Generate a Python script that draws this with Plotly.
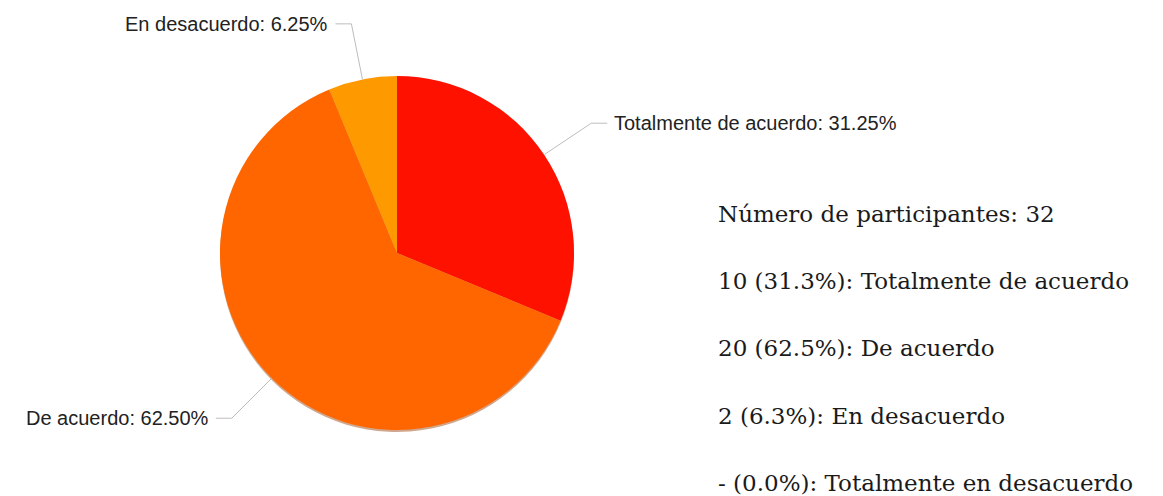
import math
from decimal import Decimal, ROUND_HALF_UP
import plotly.graph_objects as go

categories = ["Totalmente de acuerdo", "De acuerdo", "En desacuerdo", "Totalmente en desacuerdo"]
counts = [10, 20, 2, 0]
colors = ["#ff1100", "#ff6600", "#ff9900", "#ffcc00"]

W, H = 1163, 496
OFF = 8  # page body margin
cx, cy, R = 397, 253, 177
total = sum(counts)

def px2paper(x, y):
    return (x - OFF) / W, 1 - (y - OFF) / H

def r1(v):
    return str(Decimal(str(v)).quantize(Decimal("0.1"), rounding=ROUND_HALF_UP))

fig = go.Figure()

x0p, _ = px2paper(cx - R, 0)
x1p, _ = px2paper(cx + R, 0)
# subtle shadow
_, ys0 = px2paper(0, cy + R + 2)
_, ys1 = px2paper(0, cy - R + 2)
fig.add_trace(go.Pie(
    labels=categories, values=counts, sort=False, direction="clockwise",
    marker=dict(colors=["rgba(150,60,0,0.45)"] * 4),
    textinfo="none", hoverinfo="skip",
    domain=dict(x=[x0p, x1p], y=[ys0, ys1]),
))
_, yp0 = px2paper(0, cy + R)
_, yp1 = px2paper(0, cy - R)
fig.add_trace(go.Pie(
    labels=categories, values=counts, sort=False, direction="clockwise",
    marker=dict(colors=colors), textinfo="none",
    domain=dict(x=[x0p, x1p], y=[yp0, yp1]),
))

shapes = []
annotations = []
cum = 0
for cat, v in zip(categories, counts):
    if v <= 0:
        cum += v
        continue
    f = (cum + v / 2) / total
    cum += v
    th = 2 * math.pi * f
    s, c = math.sin(th), math.cos(th)
    x0, y0 = cx + R * s, cy - R * c
    re = 1.32 * R
    x1, y1 = cx + re * s, cy - re * c
    side = 1 if s >= 0 else -1
    x2 = x1 + side * 16
    pts = [px2paper(x0, y0), px2paper(x1, y1), px2paper(x2, y1)]
    path = "M {} {} L {} {} L {} {}".format(pts[0][0], pts[0][1], pts[1][0], pts[1][1], pts[2][0], pts[2][1])
    shapes.append(dict(type="path", xref="paper", yref="paper", path=path,
                       line=dict(color="#bdbdbd", width=1)))
    tx, ty = px2paper(x2 + side * 5, y1)
    annotations.append(dict(
        xref="paper", yref="paper", x=tx, y=ty, showarrow=False,
        xanchor="left" if side > 0 else "right", yanchor="middle",
        text="{}: {:.2f}%".format(cat, 100 * v / total),
        font=dict(family="Liberation Sans, Arial, sans-serif", size=20, color="#222222"),
    ))

lines = ["Número de participantes: {}".format(total)]
for cat, v in zip(categories, counts):
    lines.append("{} ({}%): {}".format(v if v > 0 else "-", r1(100 * v / total), cat))
for i, t in enumerate(lines):
    tx, ty = px2paper(716, 214 + 67.2 * i)
    annotations.append(dict(
        xref="paper", yref="paper", x=tx, y=ty, showarrow=False,
        xanchor="left", yanchor="middle", text=t,
        font=dict(family="DejaVu Serif, serif", size=23, color="#1a1a1a"),
    ))

fig.update_layout(
    width=W, height=H, margin=dict(l=0, r=0, t=0, b=0),
    paper_bgcolor="white", plot_bgcolor="white", showlegend=False,
    shapes=shapes, annotations=annotations,
)
fig.write_html("out.html")
